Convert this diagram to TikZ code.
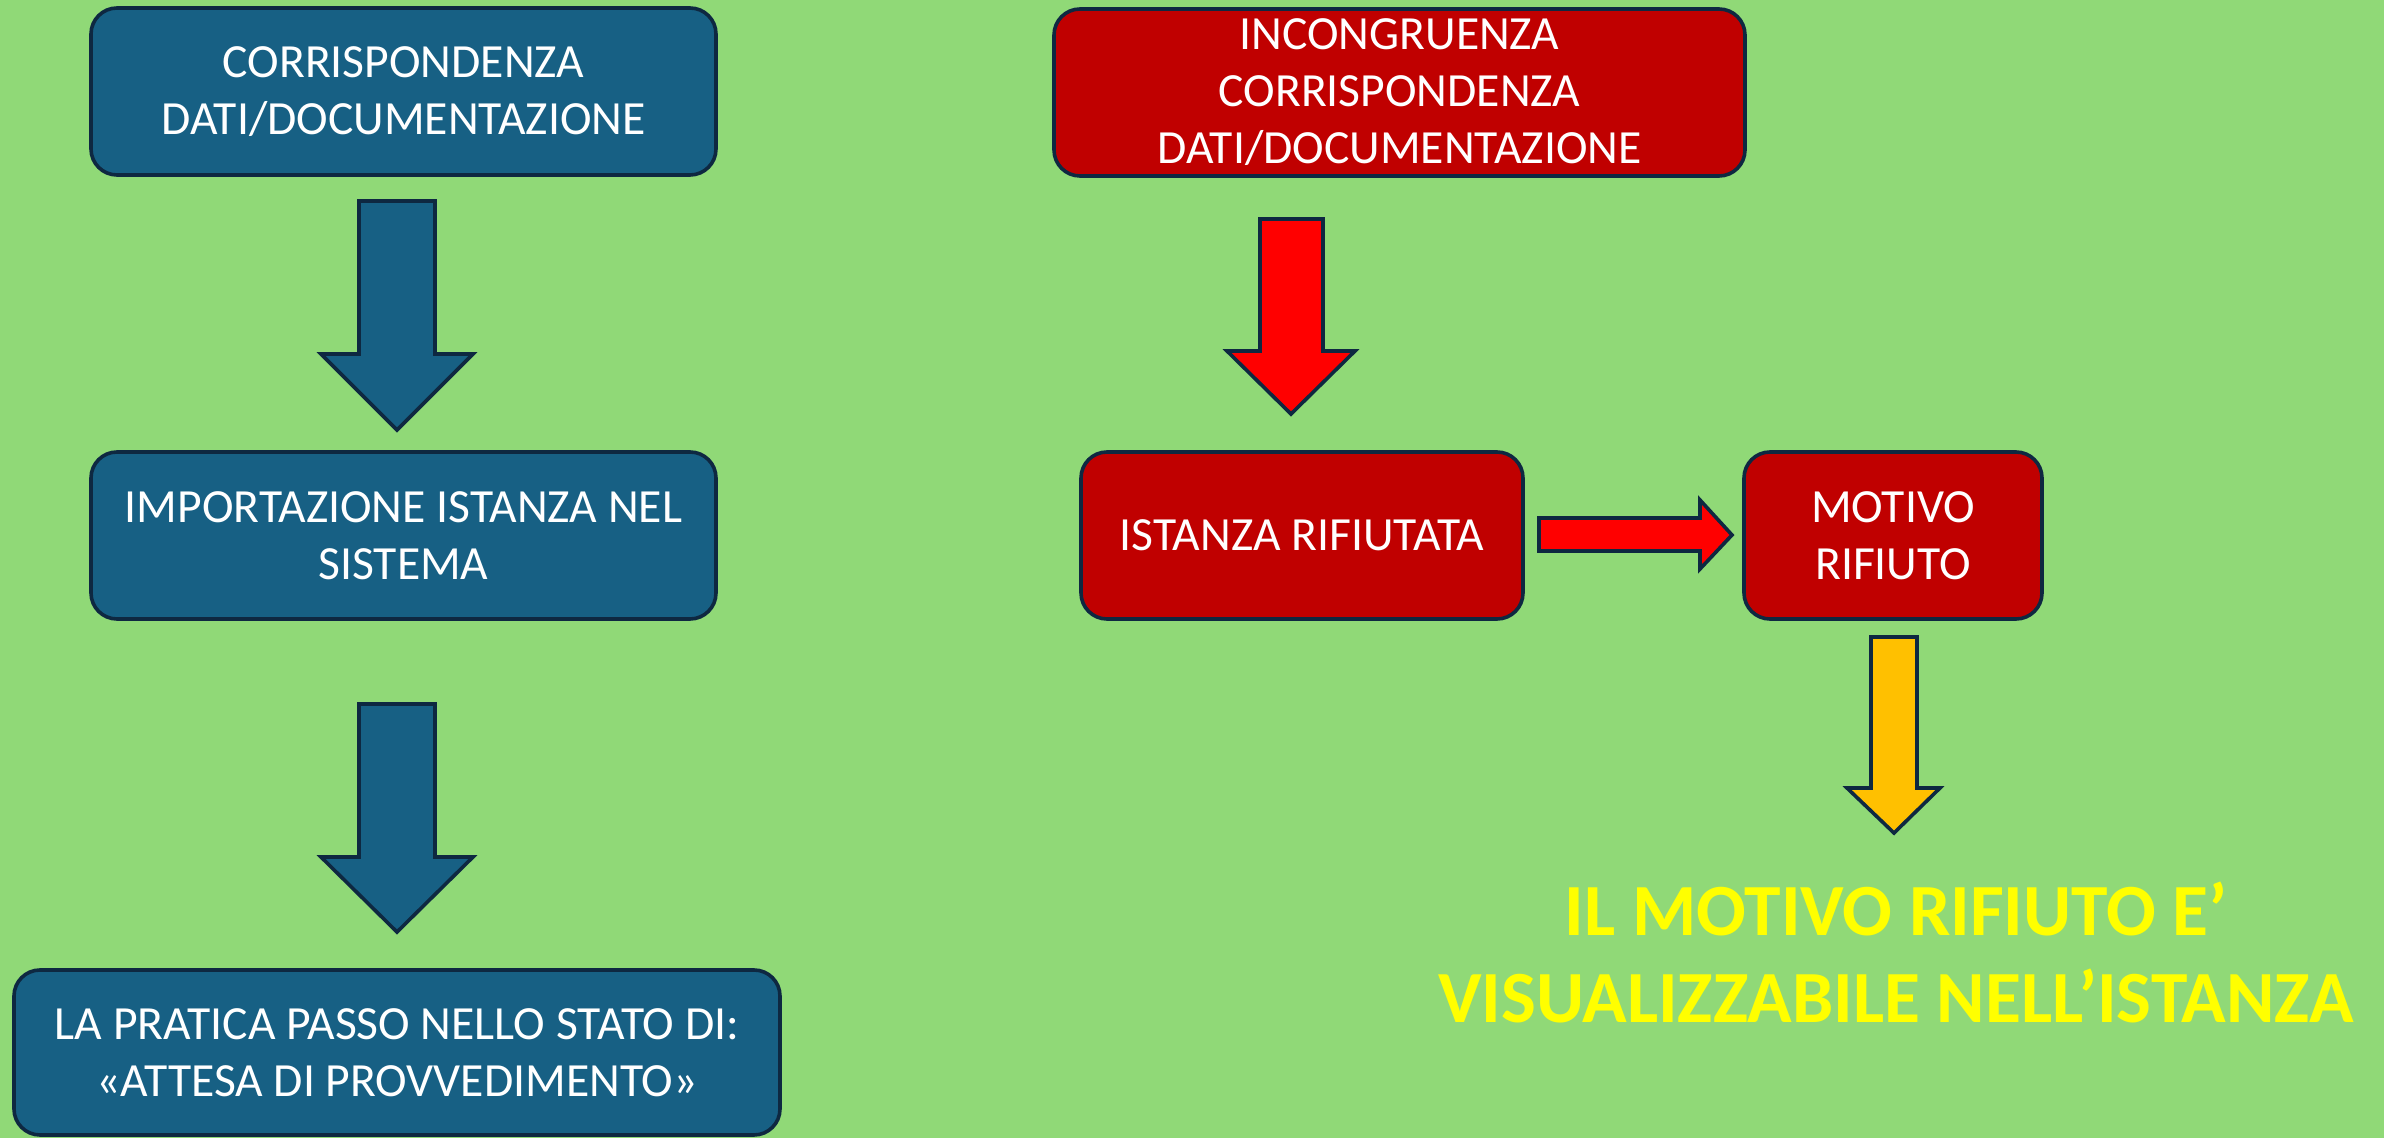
\documentclass[tikz,border=0pt]{standalone}
\usepackage{fontspec}
\setmainfont{Carlito}
\definecolor{bg}{HTML}{90D977}
\definecolor{bluefill}{HTML}{176084}
\definecolor{redfill}{HTML}{C00000}
\definecolor{redarrow}{HTML}{FF0000}
\definecolor{yelarrow}{HTML}{FFC000}
\definecolor{outline}{HTML}{0E2841}
\definecolor{yeltext}{HTML}{FFFF00}
\begin{document}
\begin{tikzpicture}[x=0.5pt,y=-0.5pt,
  boxbase/.style={draw=outline, line width=1.8pt, rounded corners=13pt, inner sep=0pt,
    align=center, text=white, font=\fontsize{23.8}{28.5}\selectfont},
  bluebox/.style={boxbase, fill=bluefill},
  redbox/.style={boxbase, fill=redfill},
  blockarrow/.style={draw=outline, line width=1.8pt, line join=miter},
  notetext/.style={text=yeltext, align=center, inner sep=0pt, font=\fontsize{36.8}{43.5}\selectfont\bfseries}]
\fill[bg] (0,0) rectangle (2384,1138);
\useasboundingbox (0,0) rectangle (2384,1138);

% left column
\node[bluebox, minimum width=312.5pt, minimum height=83.5pt] (b1) at (403.5,91.5) {CORRISPONDENZA\\DATI/DOCUMENTAZIONE};
\node[bluebox, minimum width=312.5pt, minimum height=83.5pt] (b2) at (403.5,535.5) {IMPORTAZIONE ISTANZA NEL\\SISTEMA};
\node[bluebox, minimum width=383pt, minimum height=82.5pt] (b3) at (397,1052.5) {LA PRATICA PASSO NELLO STATO DI:\\«ATTESA DI PROVVEDIMENTO»};

% right column
\node[redbox, minimum width=345.5pt, minimum height=83.5pt] (r1) at (1399.5,92.5) {INCONGRUENZA\\CORRISPONDENZA\\DATI/DOCUMENTAZIONE};
\node[redbox, minimum width=221pt, minimum height=83.5pt] (r2) at (1302,535.5) {ISTANZA RIFIUTATA};
\node[redbox, minimum width=149pt, minimum height=83.5pt] (r3) at (1893,535.5) {MOTIVO\\RIFIUTO};

\node[notetext] (note) at (1896,952.5) {IL MOTIVO RIFIUTO E’\\VISUALIZZABILE NELL’ISTANZA};

% block arrows
\draw[blockarrow, fill=bluefill] (359,201) -- (435,201) -- (435,354) -- (473,354) -- (397,430) -- (321,354) -- (359,354) -- cycle;
\draw[blockarrow, fill=bluefill] (359,704) -- (435,704) -- (435,857) -- (473,857) -- (397,932) -- (321,857) -- (359,857) -- cycle;
\draw[blockarrow, fill=redarrow] (1260,219) -- (1323,219) -- (1323,351) -- (1355,351) -- (1291,414) -- (1227,351) -- (1260,351) -- cycle;
\draw[blockarrow, fill=redarrow] (1539,518) -- (1700,518) -- (1700,500) -- (1732,535) -- (1700,569) -- (1700,551) -- (1539,551) -- cycle;
\draw[blockarrow, fill=yelarrow] (1871,637) -- (1917,637) -- (1917,788) -- (1940,788) -- (1894,833) -- (1847,788) -- (1871,788) -- cycle;
\end{tikzpicture}
\end{document}
